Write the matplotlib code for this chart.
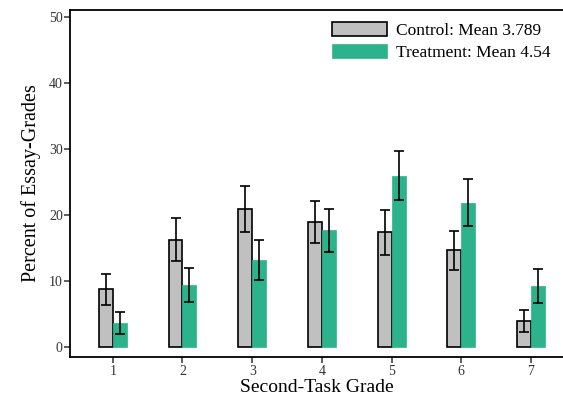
import numpy as np
import matplotlib; matplotlib.use("Agg"); import matplotlib.pyplot as plt

grades   = [1, 2, 3, 4, 5, 6, 7]
ctrl     = [8.7, 16.2, 20.9, 18.9, 17.3, 14.6, 3.9]
ctrl_err = [2.35, 3.25, 3.5, 3.2, 3.35, 2.95, 1.65]
trt      = [3.6, 9.3, 13.1, 17.6, 25.9, 21.8, 9.2]
trt_err  = [1.65, 2.55, 3.0, 3.25, 3.7, 3.6, 2.55]
labels   = ["Control: Mean 3.789", "Treatment: Mean 4.54"]

GREY, TEAL = "#c0c0c0", "#2db38b"
plt.rcParams["font.family"] = ["Liberation Serif", "DejaVu Serif"]

fig = plt.figure(figsize=(5.63, 4.01), dpi=100)
ax = fig.add_axes([0.124, 0.110, 0.876, 0.865])
x = np.array(grades)
w = 0.2
ax.bar(x - w/2, ctrl, w, color=GREY, edgecolor="black", lw=1.2, label=labels[0], zorder=2)
ax.bar(x + w/2, trt, w, color=TEAL, edgecolor=TEAL, lw=0.5, label=labels[1], zorder=2)
ax.errorbar(x - w/2, ctrl, yerr=ctrl_err, fmt="none", ecolor="black", elinewidth=1.2, capsize=3.5, capthick=1.2, zorder=3)
ax.errorbar(x + w/2, trt, yerr=trt_err, fmt="none", ecolor="black", elinewidth=1.2, capsize=3.5, capthick=1.2, zorder=3)

ax.set_xlim(0.383, 7.46)
ax.set_ylim(-1.56, 51.0)
ax.set_xticks(grades)
ax.set_yticks([0, 10, 20, 30, 40, 50])
ax.tick_params(direction="out", length=4, width=1.1, labelsize=10, colors="#333333")
ax.tick_params(axis="y", pad=1)
ax.tick_params(axis="x", pad=2)
for s in ("left", "bottom", "top"):
    ax.spines[s].set_linewidth(1.3)
ax.spines["right"].set_visible(False)
ax.set_xlabel("Second-Task Grade", fontsize=14, labelpad=0.5)
ax.set_ylabel("Percent of Essay-Grades", fontsize=14.5, labelpad=6)
ax.legend(loc="upper left", bbox_to_anchor=(0.531, 0.966), frameon=False, fontsize=12.5,
          borderpad=0, borderaxespad=0,
          handlelength=3.2, handleheight=0.85, handletextpad=0.5, labelspacing=0.3)
fig.savefig("out.png", dpi=100)
